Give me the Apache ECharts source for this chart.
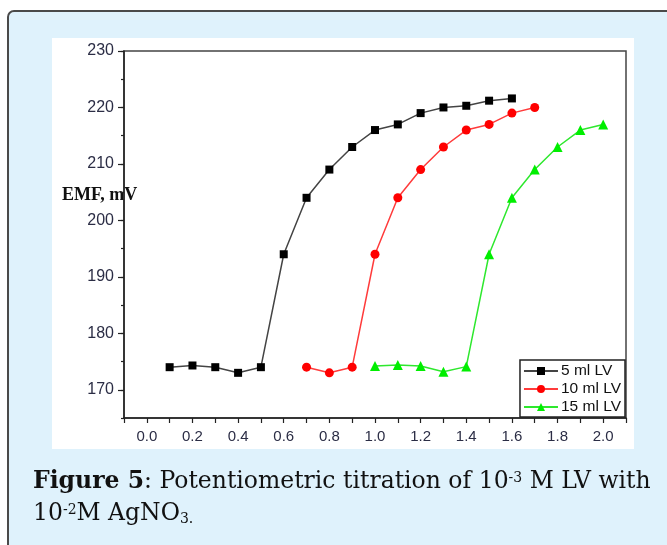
<!DOCTYPE html>
<html>
<head>
<meta charset="utf-8">
<script src="https://cdn.jsdelivr.net/npm/echarts@6/dist/echarts.min.js"></script>
<style>
  * { margin: 0; padding: 0; }
  html, body { width: 667px; height: 545px; background: #fff; overflow: hidden; }
  #main { width: 667px; height: 545px; }
</style>
</head>
<body>
<!-- chart + caption panel -->
<div id="main"></div>
<script>
// titrant volume (ml) and EMF (mV)
var x5  = [0.1, 0.2, 0.3, 0.4, 0.5, 0.6, 0.7, 0.8, 0.9, 1.0, 1.1, 1.2, 1.3, 1.4, 1.5, 1.6];
var y5  = [174, 174.3, 174, 173, 174, 194, 204, 209, 213, 216, 217, 219, 220, 220.3, 221.2, 221.6];
var x10 = [0.7, 0.8, 0.9, 1.0, 1.1, 1.2, 1.3, 1.4, 1.5, 1.6, 1.7];
var y10 = [174, 173, 174, 194, 204, 209, 213, 216, 217, 219, 220];
var x15 = [1.0, 1.1, 1.2, 1.3, 1.4, 1.5, 1.6, 1.7, 1.8, 1.9, 2.0];
var y15 = [174.2, 174.4, 174.2, 173.2, 174.1, 194, 204, 209, 213, 216, 217];

var seriesNames = ['5 ml LV', '10 ml LV', '15 ml LV'];
var xLabels = [0.0, 0.2, 0.4, 0.6, 0.8, 1.0, 1.2, 1.4, 1.6, 1.8, 2.0];
var yLabels = [170, 180, 190, 200, 210, 220, 230];

function pairs(xs, ys) {
  return xs.map(function (x, i) { return [x, ys[i]]; });
}

var labelFont = 'Liberation Sans, Arial, sans-serif';
var capFont = '"DejaVu Serif", serif';
var axisColor = '#222';

// rich styles for the caption (sup / sub done with padding)
var capRich = {
  b: { font: 'bold 23.5px ' + capFont, fill: '#111', lineHeight: 30, verticalAlign: 'bottom' },
  n: { font: '23.5px ' + capFont, fill: '#111', lineHeight: 30, verticalAlign: 'bottom' },
  s: { font: '14px ' + capFont, fill: '#111', verticalAlign: 'bottom', padding: [0, 0, 9, 0] },
  u: { font: '14px ' + capFont, fill: '#111', verticalAlign: 'bottom', padding: [0, 0, 0, 0] }
};

var chart = echarts.init(document.getElementById('main'));
chart.setOption({
  animation: false,
  graphic: [
    // light blue panel
    { type: 'rect', z: -20, shape: { x: 8, y: 11, width: 700, height: 600, r: 6 },
      style: { fill: '#dff2fc', stroke: '#4a4a4a', lineWidth: 2 } },
    // white figure area
    { type: 'rect', z: -10, shape: { x: 52, y: 38, width: 582, height: 411 },
      style: { fill: '#ffffff' } },
    { type: 'text', left: 62, top: 186,
      style: { text: 'EMF, mV', font: 'bold 18px "Liberation Serif", "Times New Roman", serif', fill: '#111' } },
    { type: 'text', left: 33, top: 470,
      style: { text: '{b|Figure 5}{n|: Potentiometric titration of 10}{s|-3}{n| M LV with}', rich: capRich } },
    { type: 'text', left: 33, top: 502,
      style: { text: '{n|10}{s|-2}{n|M AgNO}{u|3.}', rich: capRich } }
  ],
  grid: {
    left: 124, right: 41, top: 51, bottom: 127,
    show: true, borderColor: '#444', borderWidth: 1.5, backgroundColor: 'transparent'
  },
  legend: {
    data: seriesNames,
    orient: 'vertical',
    right: 42, bottom: 128,
    backgroundColor: '#fff',
    borderColor: '#222', borderWidth: 1.5, borderRadius: 0,
    padding: [3, 4, 2, 3],
    itemGap: 2,
    itemWidth: 34, itemHeight: 10,
    textStyle: { fontFamily: labelFont, fontSize: 15.5, color: '#111', padding: [0, 0, 0, -2] }
  },
  xAxis: {
    type: 'value',
    min: -0.1, max: 2.1, interval: 0.1,
    splitLine: { show: false },
    axisLine: { onZero: false, lineStyle: { color: axisColor, width: 1.5 } },
    axisTick: { length: 5, lineStyle: { color: axisColor, width: 1.2 } },
    axisLabel: {
      customValues: xLabels,
      margin: 11,
      fontFamily: labelFont, fontSize: 15, color: '#2b2d45',
      formatter: function (v) { return v.toFixed(1); }
    }
  },
  yAxis: [{
    type: 'value',
    min: 165, max: 230, interval: 5,
    splitLine: { show: false },
    axisLine: { onZero: false, lineStyle: { color: axisColor, width: 1.5 } },
    axisTick: { length: 3, lineStyle: { color: axisColor, width: 1.2 } },
    axisLabel: {
      customValues: yLabels,
      margin: 10,
      fontFamily: labelFont, fontSize: 16, color: '#2b2d45'
    }
  }, {
    // longer ticks at the labelled values
    type: 'value', position: 'left',
    min: 165, max: 230,
    splitLine: { show: false },
    axisLine: { show: false, onZero: false },
    axisLabel: { show: false },
    axisTick: { customValues: yLabels, length: 6, lineStyle: { color: axisColor, width: 1.2 } }
  }],
  series: [{
    name: seriesNames[0], type: 'line', data: pairs(x5, y5),
    symbol: 'rect', symbolSize: 8,
    itemStyle: { color: '#000' },
    lineStyle: { color: '#444', width: 1.5 }
  }, {
    name: seriesNames[1], type: 'line', data: pairs(x10, y10),
    symbol: 'circle', symbolSize: 9,
    itemStyle: { color: '#ff0000' },
    lineStyle: { color: '#ff3b3b', width: 1.5 }
  }, {
    name: seriesNames[2], type: 'line', data: pairs(x15, y15),
    symbol: 'triangle', symbolSize: 10,
    itemStyle: { color: '#00ee00' },
    lineStyle: { color: '#2ee82e', width: 1.5 }
  }]
});
</script>
</body>
</html>
